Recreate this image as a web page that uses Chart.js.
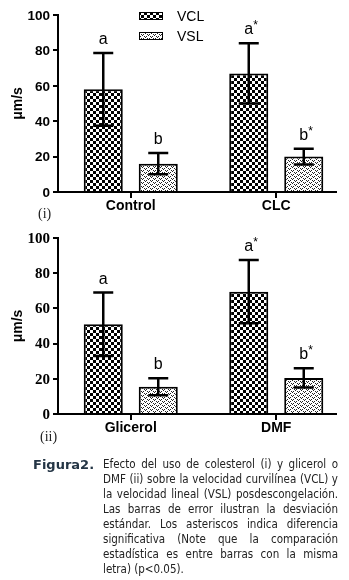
<!DOCTYPE html>
<html>
<head>
<meta charset="utf-8">
<script src="https://cdn.jsdelivr.net/npm/chart.js@4.4.1/dist/chart.umd.min.js"></script>
<style>
  body { margin: 0; background: #fff; width: 349px; height: 580px; position: relative; overflow: hidden; }
  canvas { position: absolute; left: 0; }
  .roman { position: absolute; font-family: "Liberation Serif"; font-size: 14px; color: #222; }
  #cap { position: absolute; left: 33px; top: 457px; width: 305px; display: flex;
         font-family: "DejaVu Sans Condensed", "Noto Sans"; font-size: 11.5px; line-height: 15px; color: #222; }
  #cap b { width: 70px; flex: none; font-family: "DejaVu Sans"; font-size: 13px; color: #243545; }
  #cap .body { flex: 1; }
  #cap .ln { white-space: nowrap; text-align: justify; text-align-last: justify; }
  #cap .ln.last { text-align-last: left; }
</style>
</head>
<body>
<canvas id="c1" width="349" height="220" style="top:0"></canvas>
<canvas id="c2" width="349" height="220" style="top:225px"></canvas>
<div class="roman" style="left:38px;top:206px">(i)</div>
<div class="roman" style="left:40px;top:429px">(ii)</div>
<div id="cap"><b>Figura2.</b><div class="body">
<div class="ln">Efecto del uso de colesterol (i) y glicerol o</div>
<div class="ln">DMF (ii) sobre la velocidad curvilínea (VCL) y</div>
<div class="ln">la velocidad lineal (VSL) posdescongelación.</div>
<div class="ln">Las barras de error ilustran la desviación</div>
<div class="ln">estándar. Los asteriscos indica diferencia</div>
<div class="ln">significativa (Note que la comparación</div>
<div class="ln">estadística es entre barras con la misma</div>
<div class="ln last">letra) (p&lt;0.05).</div>
</div></div>
<script>
// panel (i)
const cats1 = ["Control", "CLC"];
const vcl1 = [58, 67];
const vcl1Sd = [20.5, 17];
const vsl1 = [16, 20];
const vsl1Sd = [6, 4.5];
const vclMarks1 = ["a", "a*"];
const vslMarks1 = ["b", "b*"];

// panel (ii)
const cats2 = ["Glicerol", "DMF"];
const vcl2 = [51, 69.5];
const vcl2Sd = [18, 18];
const vsl2 = [15.5, 20.5];
const vsl2Sd = [4.8, 5.5];
const vclMarks2 = ["a", "a*"];
const vslMarks2 = ["b", "b*"];

const yTicks = [0, 20, 40, 60, 80, 100];

function checker() {
  const c = document.createElement("canvas");
  c.width = 6; c.height = 6;
  const g = c.getContext("2d");
  g.fillStyle = "#fff"; g.fillRect(0, 0, 6, 6);
  g.fillStyle = "#000"; g.fillRect(0, 0, 3, 3); g.fillRect(3, 3, 3, 3);
  return g.createPattern(c, "repeat");
}

function dots() {
  const c = document.createElement("canvas");
  c.width = 6; c.height = 4;
  const g = c.getContext("2d");
  g.fillStyle = "#fff"; g.fillRect(0, 0, 6, 4);
  g.fillStyle = "#222";
  g.fillRect(0, 0, 1, 1); g.fillRect(2, 0, 1, 1); g.fillRect(1, 1, 1, 1);
  g.fillRect(3, 2, 1, 1); g.fillRect(5, 2, 1, 1); g.fillRect(4, 3, 1, 1);
  return g.createPattern(c, "repeat");
}

const vclFill = checker();
const vslFill = dots();

const errBars = {
  id: "errBars",
  afterDatasetsDraw(chart) {
    const ctx = chart.ctx, y = chart.scales.y;
    chart.data.datasets.forEach((ds, i) => {
      chart.getDatasetMeta(i).data.forEach((bar, j) => {
        const m = ds.data[j], s = ds.sd[j];
        const yt = y.getPixelForValue(m + s), yb = y.getPixelForValue(m - s);
        ctx.save();
        ctx.strokeStyle = "#000";
        ctx.lineWidth = 2.5;
        ctx.beginPath();
        ctx.moveTo(bar.x, yt); ctx.lineTo(bar.x, yb);
        ctx.moveTo(bar.x - 10, yt); ctx.lineTo(bar.x + 10, yt);
        ctx.moveTo(bar.x - 10, yb); ctx.lineTo(bar.x + 10, yb);
        ctx.stroke();
        // letter above the error bar
        const mk = ds.marks[j];
        ctx.fillStyle = "#000";
        ctx.textAlign = "center";
        ctx.textBaseline = "alphabetic";
        ctx.font = "16px 'Liberation Sans'";
        ctx.fillText(mk[0], bar.x, yt - 9);
        if (mk.length > 1) {
          const w = ctx.measureText(mk[0]).width;
          ctx.font = "12px 'Liberation Sans'";
          ctx.textAlign = "left";
          ctx.fillText(mk.slice(1), bar.x + w / 2, yt - 14);
        }
        ctx.restore();
      });
    });
  }
};

// x axis line stops short of the right edge, y tick labels in the panel's own face
const axisBits = {
  id: "axisBits",
  afterDraw(chart, args, opts) {
    const ctx = chart.ctx, a = chart.chartArea, y = chart.scales.y;
    ctx.save();
    ctx.strokeStyle = "#000";
    ctx.lineWidth = 2;
    ctx.beginPath();
    ctx.moveTo(a.left, a.bottom); ctx.lineTo(a.right - 12, a.bottom);
    ctx.stroke();
    ctx.fillStyle = "#000";
    ctx.font = opts.font;
    ctx.textAlign = "right";
    ctx.textBaseline = "middle";
    y.ticks.forEach((t) => {
      ctx.fillText(String(t.value), y.right - 8, y.getPixelForValue(t.value) + 1);
    });
    ctx.restore();
  }
};

const boxLegend = {
  id: "boxLegend",
  afterDraw(chart) {
    const ctx = chart.ctx;
    chart.data.datasets.forEach((ds, i) => {
      const top = 12 + i * 20;
      ctx.save();
      ctx.fillStyle = ds.backgroundColor;
      ctx.fillRect(139, top, 24, 8);
      ctx.strokeStyle = "#000";
      ctx.lineWidth = 1;
      ctx.strokeRect(139.5, top + 0.5, 23, 7);
      ctx.fillStyle = "#000";
      ctx.font = "14px 'Liberation Sans'";
      ctx.textBaseline = "middle";
      ctx.fillText(ds.label, 177, top + 5);
      ctx.restore();
    });
  }
};

function makeChart(id, cats, vcl, vclSd, vsl, vslSd, vclMarks, vslMarks, opt) {
  const plugins = [errBars, axisBits];
  if (opt.legend) plugins.push(boxLegend);
  return new Chart(document.getElementById(id), {
    type: "bar",
    data: {
      labels: cats,
      datasets: [
        { label: "VCL", data: vcl, sd: vclSd, marks: vclMarks, backgroundColor: vclFill,
          borderColor: "#000", borderWidth: 2, barPercentage: 0.71, categoryPercentage: 0.756 },
        { label: "VSL", data: vsl, sd: vslSd, marks: vslMarks, backgroundColor: vslFill,
          borderColor: "#000", borderWidth: 2, barPercentage: 0.71, categoryPercentage: 0.756 }
      ]
    },
    options: {
      responsive: false,
      animation: false,
      layout: { padding: { top: opt.top, left: 0, right: 0, bottom: 0 } },
      plugins: {
        legend: { display: false },
        tooltip: { enabled: false },
        axisBits: { font: opt.tickFont }
      },
      scales: {
        x: {
          afterFit: (s) => { s.height = opt.xh; },
          border: { display: false },
          grid: { offset: false, drawOnChartArea: false, color: "#000", lineWidth: 2, tickLength: 6 },
          ticks: { color: "#000", padding: 0, font: { family: "'Liberation Sans'", size: 14, weight: "bold" } }
        },
        y: {
          min: 0,
          max: 100,
          afterFit: (s) => { s.width = 58; },
          afterBuildTicks: (s) => { s.ticks = yTicks.map((v) => ({ value: v })); },
          border: { display: true, color: "#000", width: 2 },
          grid: { drawOnChartArea: false, color: "#000", lineWidth: 2, tickLength: 5 },
          ticks: { display: false },
          title: { display: true, text: "\u03bcm/s", color: "#000", padding: { top: 10, bottom: 0 },
                   font: { family: "'Liberation Sans'", size: 14, weight: "bold" } }
        }
      }
    },
    plugins: plugins
  });
}

makeChart("c1", cats1, vcl1, vcl1Sd, vsl1, vsl1Sd, vclMarks1, vslMarks1,
  { legend: true, top: 15, xh: 28, tickFont: "bold 13.5px 'Liberation Sans'" });
makeChart("c2", cats2, vcl2, vcl2Sd, vsl2, vsl2Sd, vclMarks2, vslMarks2,
  { legend: false, top: 13, xh: 31, tickFont: "bold 15px 'Liberation Serif'" });
</script>
</body>
</html>
